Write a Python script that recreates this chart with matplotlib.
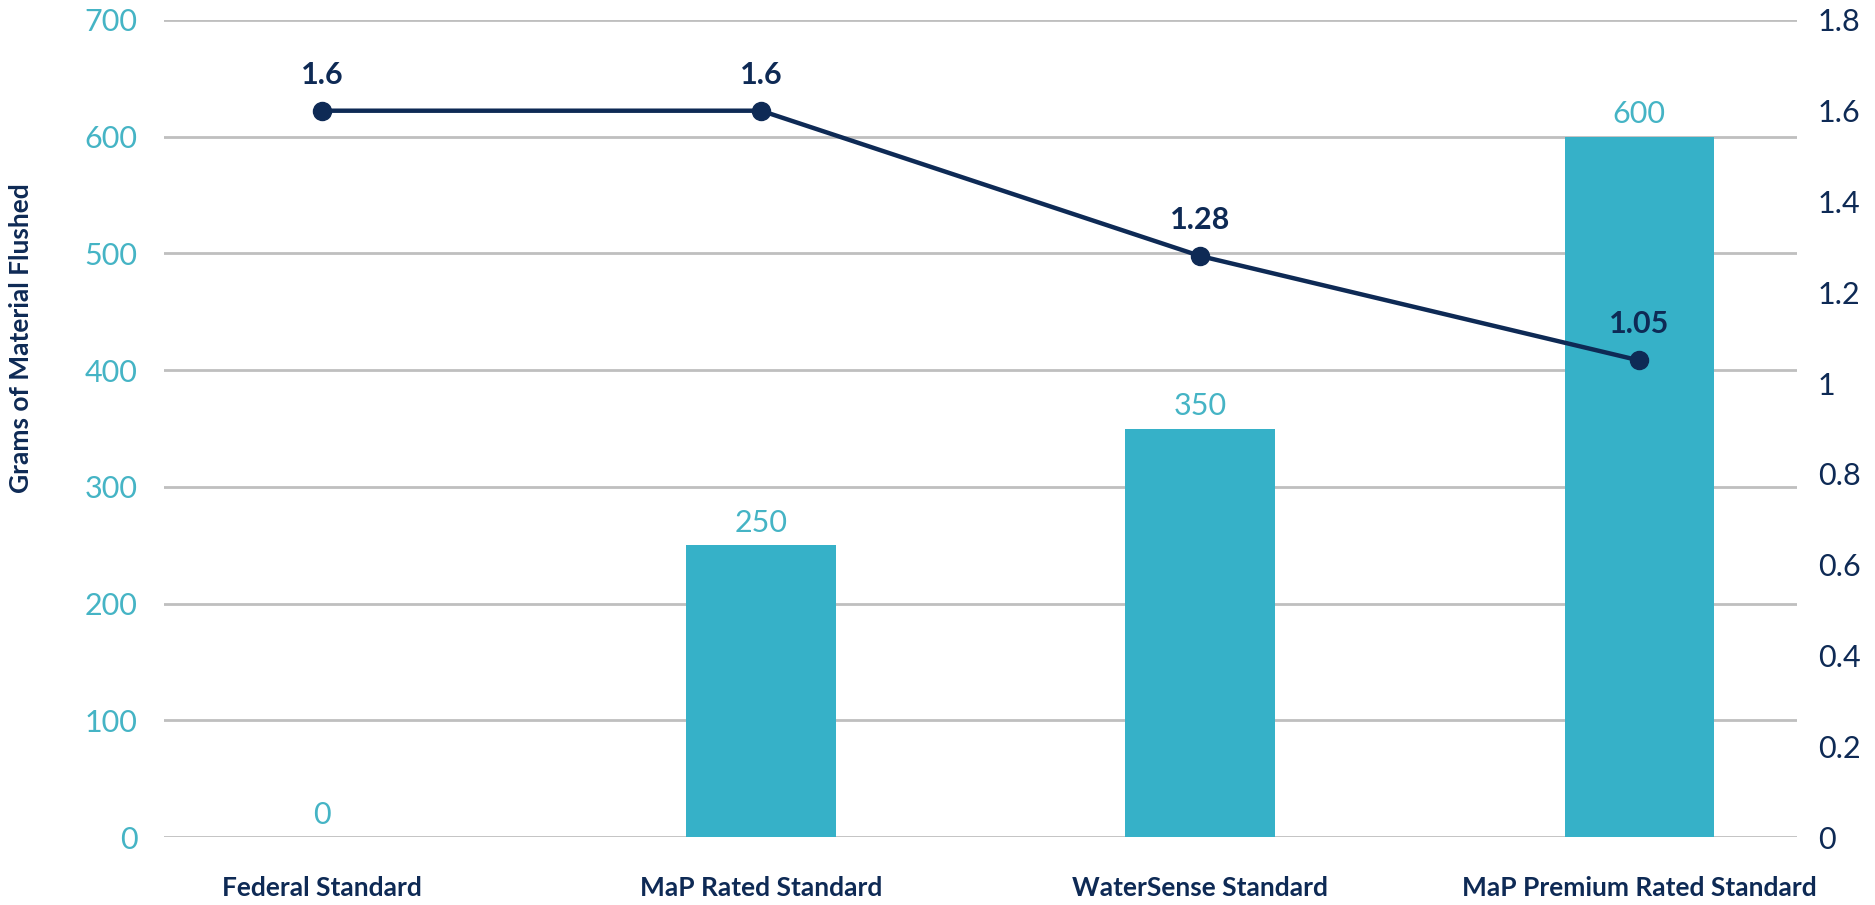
import matplotlib
matplotlib.use('Agg')
import matplotlib.pyplot as plt
import matplotlib.ticker as ticker
import numpy as np

# Data
categories = ['Federal Standard', 'MaP Rated Standard', 'WaterSense Standard',
              'MaP Premium Rated Standard']
grams_flushed = [0, 250, 350, 600]
gallons_per_flush = [1.6, 1.6, 1.28, 1.05]
gallon_labels = ['1.6', '1.6', '1.28', '1.05']

# Colors
C_BAR = '#36B1C8'
C_BAR_TXT = '#45B4C5'
C_NAVY = '#0E2A55'
C_GRID = '#BFBFBF'

plt.rcParams['font.family'] = ['Lato', 'DejaVu Sans']

fig = plt.figure(figsize=(18.75, 9.05), dpi=100)
fig.patch.set_facecolor('white')
ax = fig.add_axes([0.0875, 0.075, 0.871, 0.903])
ax2 = ax.twinx()

x = np.arange(len(categories))
bars = ax.bar(x, grams_flushed, 0.34, color=C_BAR, zorder=2)
for xi, v in zip(x, grams_flushed):
    ax.annotate(f'{v}', (xi, v), xytext=(0, 16), textcoords='offset points',
                ha='center', va='center', fontsize=22, color=C_BAR_TXT)

ax.set_ylim(0, 700)
ax.set_yticks(np.arange(0, 701, 100))
ax.set_xlim(-0.36, 3.36)
ax.grid(True, axis='y', color=C_GRID, linewidth=2)
ax.set_axisbelow(True)
ax.tick_params(axis='y', length=0, pad=19, labelsize=22, labelcolor=C_BAR_TXT)
ax.set_xticks(x)
ax.set_xticklabels(categories, fontsize=19, fontweight='bold', color=C_NAVY)
ax.tick_params(axis='x', length=0, pad=28)
ax.set_ylabel('Grams of Material Flushed', fontsize=19, fontweight='bold', color=C_NAVY)
ax.yaxis.set_label_coords(-0.080, 0.61)

ax2.plot(x, gallons_per_flush, color=C_NAVY, linewidth=3.2, marker='o',
         markersize=13, zorder=3)
for xi, v, lab in zip(x, gallons_per_flush, gallon_labels):
    ax2.annotate(lab, (xi, v), xytext=(0, 26), textcoords='offset points',
                 ha='center', va='center', fontsize=22, fontweight='bold', color=C_NAVY)
ax2.set_ylim(0, 1.8)
ax2.set_yticks(np.arange(0, 1.81, 0.2))
ax2.yaxis.set_major_formatter(ticker.FuncFormatter(lambda v, p: f'{v:.1f}'.rstrip('0').rstrip('.') if v else '0'))
ax2.tick_params(axis='y', length=0, pad=15, labelsize=22, labelcolor=C_NAVY)

for a in (ax, ax2):
    for s in a.spines.values():
        s.set_visible(False)

fig.savefig('out.png', dpi=100, facecolor='white')
